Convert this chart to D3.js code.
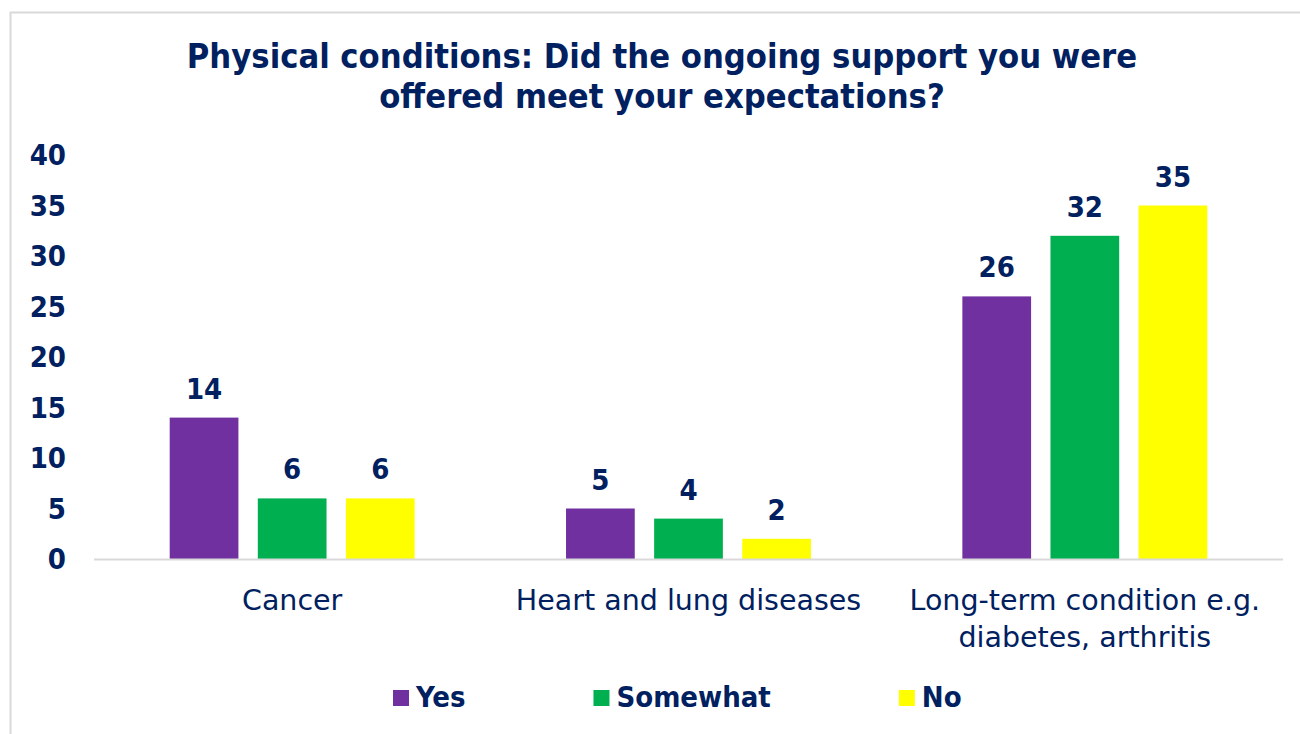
<!DOCTYPE html>
<html>
<head>
<meta charset="utf-8">
<script src="https://cdn.jsdelivr.net/npm/d3@7"></script>
<style>
  body { margin: 0; background: #fff; }
  svg text { font-family: "DejaVu Sans Condensed", "DejaVu Sans", sans-serif; fill: #002060; }
</style>
</head>
<body>
<svg class="chart" width="1300" height="734"></svg>
<script>
// chart data
const categories = ["Cancer", "Heart and lung diseases", "Long-term condition e.g.|diabetes, arthritis"];
const seriesNames = ["Yes", "Somewhat", "No"];
const yesValues = [14, 5, 26];
const somewhatValues = [6, 4, 32];
const noValues = [6, 2, 35];
const yTicks = [0, 5, 10, 15, 20, 25, 30, 35, 40];
const titleLines = ["Physical conditions: Did the ongoing support you were", "offered meet your expectations?"];

const seriesColors = ["#7030A0", "#00B050", "#FFFF00"];
const allValues = [yesValues, somewhatValues, noValues];

let svg = d3.select(".chart");

// outer frame
svg.append("rect")
  .attr("x", 10.5).attr("y", 12.5)
  .attr("width", 1300).attr("height", 740)
  .attr("fill", "none")
  .attr("stroke", "#d9d9d9")
  .attr("stroke-width", 2);

// title
svg.append("g").selectAll("text")
  .data(titleLines)
  .enter().append("text")
  .attr("x", 662)
  .attr("y", (d, i) => 68 + i * 40)
  .attr("text-anchor", "middle")
  .style("font-size", "34.2px")
  .style("font-weight", "bold")
  .text(d => d);

let x0 = d3.scaleBand()
  .domain(categories)
  .range([94, 1283])
  .paddingInner(0.382)
  .paddingOuter(0.191);

let x1 = d3.scaleBand()
  .domain(seriesNames)
  .range([0, x0.bandwidth()])
  .paddingInner(0.22);

let y = d3.scaleLinear()
  .domain([0, 40])
  .range([559, 155]);

let color = d3.scaleOrdinal().domain(seriesNames).range(seriesColors);

// y axis labels (no line)
let yAxis = svg.append("g")
  .attr("transform", "translate(66,0)")
  .call(d3.axisLeft(y).tickValues(yTicks).tickSize(0).tickPadding(0));
yAxis.select(".domain").remove();
yAxis.selectAll("text")
  .attr("dy", "0.34em")
  .style("font-size", "29px")
  .style("font-weight", "bold")
  .style("font-family", null)
  .attr("fill", null);

// bars
let rows = [];
categories.forEach((c, ci) => {
  seriesNames.forEach((s, si) => {
    rows.push({cat: c, series: s, value: allValues[si][ci]});
  });
});

svg.append("g").selectAll("rect")
  .data(rows)
  .enter().append("rect")
  .attr("x", d => x0(d.cat) + x1(d.series))
  .attr("y", d => y(d.value))
  .attr("width", x1.bandwidth())
  .attr("height", d => y(0) - y(d.value))
  .attr("fill", d => color(d.series));

// value labels
svg.append("g").selectAll("text")
  .data(rows)
  .enter().append("text")
  .attr("x", d => x0(d.cat) + x1(d.series) + x1.bandwidth() / 2)
  .attr("y", d => y(d.value) - 19)
  .attr("text-anchor", "middle")
  .style("font-size", "29px")
  .style("font-weight", "bold")
  .text(d => d.value);

// x axis line
svg.append("line")
  .attr("x1", 94).attr("x2", 1283)
  .attr("y1", y(0) + 0.5).attr("y2", y(0) + 0.5)
  .attr("stroke", "#d9d9d9")
  .attr("stroke-width", 2);

// category labels
let catLabels = svg.append("g").selectAll("text")
  .data(categories)
  .enter().append("text")
  .attr("x", d => x0(d) + x0.bandwidth() / 2)
  .attr("y", 610)
  .attr("text-anchor", "middle")
  .style("font-family", "'DejaVu Sans', sans-serif")
  .style("font-size", "28.5px");
catLabels.selectAll("tspan")
  .data(d => d.split("|"))
  .enter().append("tspan")
  .attr("x", function () { return d3.select(this.parentNode).attr("x"); })
  .attr("dy", (d, i) => i === 0 ? 0 : 37)
  .text(d => d);

// legend
let legend = svg.append("g");
let lx = 393;
seriesNames.forEach((s, i) => {
  legend.append("rect")
    .attr("x", lx).attr("y", 690)
    .attr("width", 16).attr("height", 16)
    .attr("fill", color(s));
  let t = legend.append("text")
    .attr("x", lx + 23).attr("y", 707)
    .style("font-size", "29px")
    .style("font-weight", "bold")
    .text(s);
  lx = lx + 23 + t.node().getComputedTextLength() + 128;
});
</script>
</body>
</html>
